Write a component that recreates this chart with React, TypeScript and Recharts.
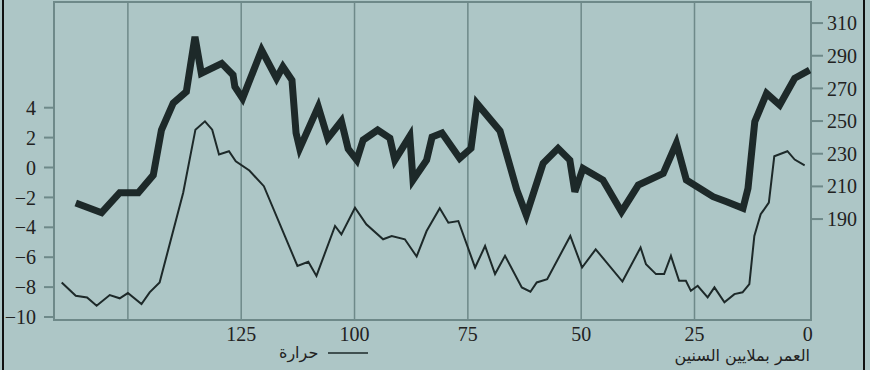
import React from "react";
import {
  ComposedChart,
  Line,
  XAxis,
  YAxis,
  ReferenceLine,
  ReferenceArea,
  Legend,
} from "recharts";

// ---- data ----
const co2Age = [161.5, 155.8, 151.8, 147.7, 144.4, 142.6, 140.0, 137.1, 135.2, 133.8, 129.3, 126.8, 126.4, 124.7, 120.5, 117.2, 115.8, 113.8, 112.9, 112.1, 108.0, 105.9, 102.9, 101.4, 99.5, 98.1, 94.9, 92.2, 91.1, 87.8, 87.1, 84.1, 82.9, 80.7, 76.8, 74.3, 73.0, 67.9, 64.2, 62.1, 58.4, 55.1, 52.5, 51.4, 49.6, 45.2, 41.1, 37.4, 31.9, 29.0, 26.8, 20.9, 17.9, 14.3, 13.2, 11.7, 9.1, 6.2, 2.9, -0.4];
const co2Val = [199.8, 193.9, 206.1, 206.1, 216.9, 244.5, 261.0, 268.0, 301.6, 279.2, 285.3, 278.2, 271.0, 263.9, 293.5, 276.2, 283.3, 275.1, 242.7, 233.3, 258.8, 239.4, 250.0, 232.9, 226.1, 238.4, 244.5, 239.6, 226.1, 240.8, 213.9, 226.1, 240.2, 242.7, 227.2, 233.3, 260.8, 243.9, 207.8, 192.4, 224.1, 233.3, 226.1, 206.7, 221.0, 213.9, 194.5, 210.8, 218.0, 236.4, 213.9, 203.7, 200.6, 196.6, 208.8, 249.6, 267.0, 259.8, 276.2, 281.2];

const tempAge = [164.6, 161.5, 159.0, 156.9, 154.0, 151.8, 150.0, 147.0, 145.2, 143.0, 137.8, 135.1, 133.0, 131.4, 129.9, 127.7, 126.2, 123.2, 120.0, 112.6, 110.2, 108.4, 104.3, 102.9, 99.9, 97.4, 93.7, 91.8, 88.9, 86.3, 84.1, 81.2, 79.3, 77.1, 73.4, 71.2, 69.0, 66.8, 63.1, 61.2, 59.8, 57.5, 52.4, 49.8, 46.8, 40.9, 36.9, 35.7, 33.5, 31.7, 30.2, 28.4, 26.9, 25.8, 24.3, 22.1, 20.6, 18.4, 16.2, 14.4, 12.9, 11.8, 10.4, 8.6, 7.4, 4.5, 2.9, 0.7];
const tempVal = [-7.69, -8.58, -8.69, -9.25, -8.53, -8.75, -8.4, -9.13, -8.35, -7.69, -1.69, 2.53, 3.09, 2.53, 0.87, 1.09, 0.42, -0.2, -1.25, -6.58, -6.31, -7.25, -3.91, -4.47, -2.69, -3.8, -4.8, -4.58, -4.8, -5.95, -4.25, -2.73, -3.69, -3.58, -6.69, -5.25, -7.13, -5.91, -8.02, -8.31, -7.69, -7.47, -4.58, -6.69, -5.47, -7.63, -5.35, -6.47, -7.13, -7.13, -5.91, -7.58, -7.58, -8.25, -7.91, -8.69, -8.02, -9.02, -8.47, -8.35, -7.8, -4.58, -3.13, -2.35, 0.75, 1.09, 0.53, 0.15];

const ageTicks = [125, 100, 75, 50, 25, 0];
const gridAges = [150, 125, 100, 75, 50, 25];
const tempTicks = [-10, -8, -6, -4, -2, 0, 2, 4];
const co2Ticks = [190, 210, 230, 250, 270, 290, 310];

const ageDomain = [-0.7, 166.3];
const tempDomain = [-10.2, 11.07];
const co2Domain = [128.2, 322.9];

const tempLabel = "حرارة";
const xTitle = "العمر بملايين السنين";

const co2Data = co2Age.map((a, i) => ({ age: a, co2: co2Val[i] }));
const tempData = tempAge.map((a, i) => ({ age: a, temp: tempVal[i] }));

const BG = "#adc6c6";
const INK = "#1d2929";
const GRID = "#6e8989";
const TXT = "#222222";
const SERIF = "'Liberation Serif', 'DejaVu Serif', serif";
const ARABIC = "'DejaVu Sans', sans-serif";

const fmtMinus = (v: number) => (v < 0 ? "\u2212" + Math.abs(v) : String(v));

const XTitle = (props: any) => {
  const vb = props.viewBox || {};
  return (
    <text
      x={vb.x + vb.width - 1}
      y={361}
      textAnchor="end"
      fontFamily={ARABIC}
      fontSize={16}
      fill={TXT}
    >
      {xTitle}
    </text>
  );
};

const LegendContent = (props: any) => {
  const items = (props.payload || []).filter((p: any) => p.type !== "none");
  return (
    <div style={{ display: "flex", alignItems: "center", fontFamily: ARABIC, fontSize: 16, color: TXT }}>
      {items.map((p: any, i: number) => (
        <React.Fragment key={i}>
          <span style={{ marginRight: 10, lineHeight: "20px" }}>{p.value}</span>
          <svg width={40} height={4} style={{ display: "block" }}>
            <line x1={0} y1={2} x2={40} y2={2} stroke={INK} strokeWidth={1.6} />
          </svg>
        </React.Fragment>
      ))}
    </div>
  );
};

export default function App() {
  return (
    <div style={{ position: "absolute", left: 0, top: 0, width: 870, height: 370, background: BG, overflow: "hidden" }}>
      <ComposedChart width={870} height={370} margin={{ top: 2, right: 0, bottom: 0, left: 0 }}>
        <XAxis
          dataKey="age"
          type="number"
          xAxisId="x"
          domain={ageDomain}
          reversed
          allowDataOverflow
          ticks={ageTicks}
          interval={0}
          height={50}
          axisLine={false}
          tickLine={false}
          tickSize={0}
          tickMargin={7}
          tick={{ fontSize: 20, fontFamily: SERIF, fill: TXT }}
          label={<XTitle />}
        />
        <YAxis
          yAxisId="t"
          orientation="left"
          type="number"
          domain={tempDomain}
          allowDataOverflow
          ticks={tempTicks}
          interval={0}
          width={54}
          axisLine={false}
          tickLine={{ stroke: GRID, strokeWidth: 2 }}
          tickSize={10}
          tickMargin={8}
          tickFormatter={fmtMinus}
          tick={{ fontSize: 20, fontFamily: SERIF, fill: TXT }}
        />
        <YAxis
          yAxisId="c"
          orientation="right"
          type="number"
          domain={co2Domain}
          allowDataOverflow
          ticks={co2Ticks}
          interval={0}
          width={59}
          axisLine={false}
          tickLine={{ stroke: GRID, strokeWidth: 2 }}
          tickSize={12}
          tickMargin={4}
          tick={{ fontSize: 20, fontFamily: SERIF, fill: TXT }}
        />
        {gridAges.map((a) => (
          <ReferenceLine key={a} x={a} xAxisId="x" yAxisId="t" stroke={GRID} strokeWidth={1.5} />
        ))}
        <ReferenceArea
          xAxisId="x"
          yAxisId="t"
          x1={ageDomain[1]}
          x2={ageDomain[0]}
          y1={tempDomain[0]}
          y2={tempDomain[1]}
          ifOverflow="visible"
          fill="none"
          fillOpacity={0}
          stroke={GRID}
          strokeWidth={2}
        />
        <Line
          data={co2Data}
          xAxisId="x"
          yAxisId="c"
          dataKey="co2"
          type="linear"
          stroke={INK}
          strokeWidth={7}
          dot={false}
          legendType="none"
          isAnimationActive={false}
        />
        <Line
          data={tempData}
          xAxisId="x"
          yAxisId="t"
          dataKey="temp"
          name={tempLabel}
          type="linear"
          stroke={INK}
          strokeWidth={2}
          dot={false}
          isAnimationActive={false}
        />
        <Legend
          layout="horizontal"
          verticalAlign="middle"
          align="center"
          content={<LegendContent />}
          wrapperStyle={{ left: 279, top: 343, width: "auto", height: "auto" }}
        />
      </ComposedChart>
      <div style={{ position: "absolute", left: 2, top: 0, width: 2, height: 370, background: "#111" }} />
      <div style={{ position: "absolute", left: 863, top: 0, width: 2, height: 370, background: "#111" }} />
    </div>
  );
}
